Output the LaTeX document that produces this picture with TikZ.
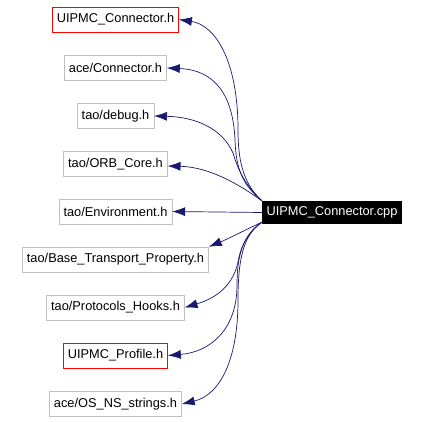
\documentclass[tikz,border=0pt]{standalone}
\usepackage{fontspec}
\setmainfont{Liberation Sans}
\usetikzlibrary{arrows.meta}

\definecolor{edgeblue}{HTML}{191970}
\definecolor{boxgrey}{HTML}{BFBFBF}

\begin{document}
\begin{tikzpicture}[
  every node/.style={font=\fontsize{12.8}{15}\selectfont},
  file/.style={draw=boxgrey, fill=white, inner xsep=4.5pt, inner ysep=0pt, minimum height=25pt},
  local/.style={file, draw=red},
  src/.style={fill=black, text=white, inner xsep=4.5pt, inner ysep=0pt, minimum height=23pt},
  dep/.style={-{Latex[length=13pt,width=9pt,fill=edgeblue]}, draw=edgeblue, line width=0.7pt},
]

\useasboundingbox (0pt,0pt) rectangle (422pt,-422pt);

\node[src] (main) at (332pt,-212.5pt) {UIPMC\_Connector.cpp};

\node[local] (n1) at (115.5pt,-19.5pt) {UIPMC\_Connector.h};
\node[file] (n2) at (115.5pt,-68pt) {ace/Connector.h};
\node[file] (n3) at (115.5pt,-116pt) {tao/debug.h};
\node[file] (n4) at (115.5pt,-164pt) {tao/ORB\_Core.h};
\node[file] (n5) at (115.5pt,-211.5pt) {tao/Environment.h};
\node[file] (n6) at (115.5pt,-259.5pt) {tao/Base\_Transport\_Property.h};
\node[file] (n7) at (115.5pt,-307.5pt) {tao/Protocols\_Hooks.h};
\node[local] (n8) at (115.5pt,-355.5pt) {UIPMC\_Profile.h};
\node[file] (n9) at (115.5pt,-404pt) {ace/OS\_NS\_strings.h};

\draw[dep] (main.north west) .. controls (245pt,-185pt) and (238pt,-165pt) .. (238pt,-130pt)
  .. controls (238pt,-60pt) and (215pt,-25pt) .. (n1.east);
\draw[dep] (main.north west) .. controls (243pt,-185pt) and (236pt,-170pt) .. (235pt,-140pt)
  .. controls (233pt,-95pt) and (215pt,-70pt) .. (n2.east);
\draw[dep] (main.north west) .. controls (245pt,-185pt) and (238pt,-170pt) .. (233pt,-153pt)
  .. controls (222pt,-128pt) and (195pt,-117pt) .. (n3.east);
\draw[dep] (main.north west) .. controls (240pt,-185pt) and (210pt,-167pt) .. ([yshift=-2pt]n4.east);
\draw[dep] (main.west) -- (n5.east);
\draw[dep] ([yshift=2pt]main.south west) .. controls (245pt,-230pt) and (230pt,-238pt) .. (n6.north east);
\draw[dep] ([yshift=2pt]main.south west) .. controls (245pt,-235pt) and (240pt,-250pt) .. (238pt,-262pt)
  .. controls (232pt,-290pt) and (210pt,-300pt) .. (n7.east);
\draw[dep] ([yshift=2pt]main.south west) .. controls (243pt,-235pt) and (237pt,-255pt) .. (237pt,-285pt)
  .. controls (237pt,-330pt) and (210pt,-352pt) .. (n8.east);
\draw[dep] ([yshift=2pt]main.south west) .. controls (243pt,-235pt) and (238pt,-260pt) .. (238pt,-300pt)
  .. controls (238pt,-360pt) and (220pt,-395pt) .. (n9.east);

\end{tikzpicture}
\end{document}
